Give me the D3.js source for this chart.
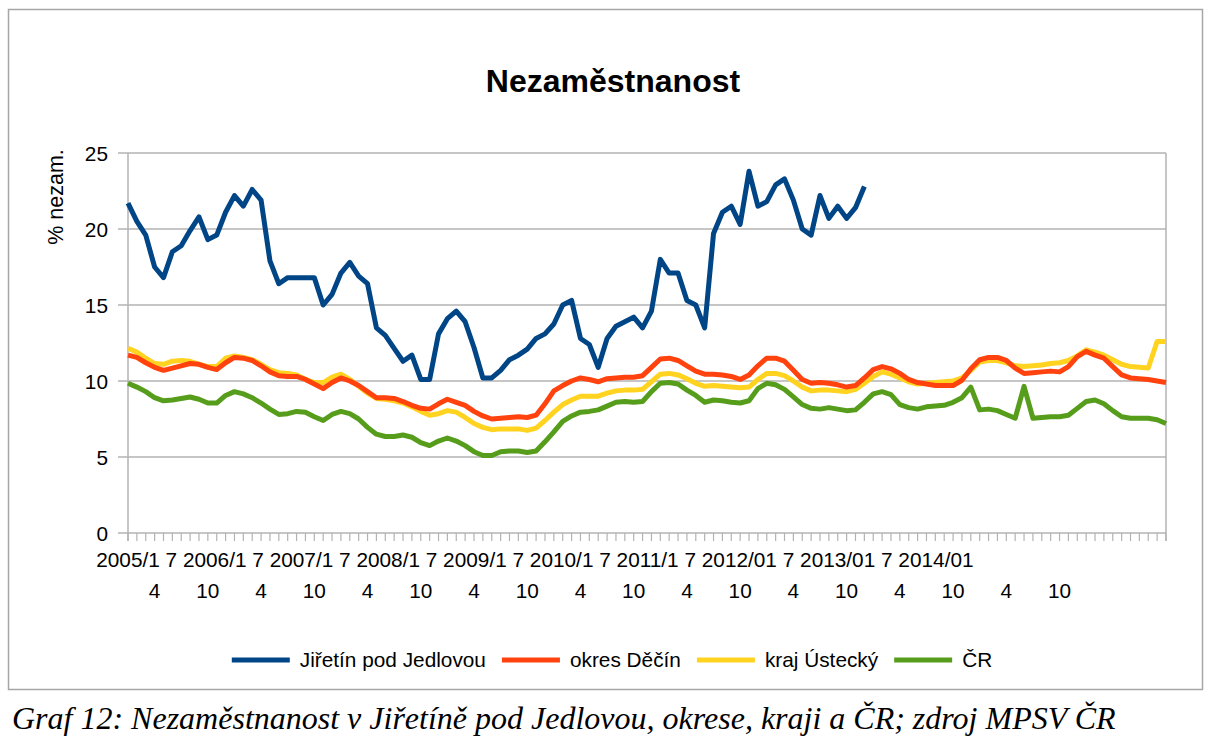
<!DOCTYPE html>
<html><head><meta charset="utf-8">
<script src="https://cdn.jsdelivr.net/npm/d3@7"></script>
<style>
html,body{margin:0;padding:0;background:#fff;}
svg{display:block;font-family:"Liberation Sans",Arial,sans-serif;}
</style></head>
<body>
<svg id="chart" width="1207" height="744"></svg>
<script>
// ---- DATA ----
const startYear = 2005;
const nMonths = 118; // 2005/1 .. 2014/10
const categories = d3.range(nMonths).map(i => `${startYear + Math.floor(i/12)}/${(i%12)+1}`);

const seriesNames = ["Jiřetín pod Jedlovou", "okres Děčín", "kraj Ústecký", "ČR"];
const seriesColors = ["#004586", "#ff420e", "#ffd320", "#579d1c"];

const jiretin = [21.7,20.5,19.6,17.5,16.8,18.5,18.9,19.9,20.8,19.3,19.6,21.1,22.2,21.5,22.6,21.9,17.9,16.4,16.8,16.8,
  16.8,16.8,15.0,15.7,17.1,17.8,16.9,16.4,13.5,13.0,12.15,11.3,11.7,10.1,10.1,13.1,14.1,14.6,13.9,12.2,
  10.2,10.2,10.7,11.4,11.7,12.1,12.8,13.1,13.75,15.0,15.3,12.8,12.4,10.9,12.8,13.6,13.9,14.2,13.5,14.6,
  18.0,17.1,17.1,15.3,15.0,13.5,19.7,21.1,21.5,20.3,23.8,21.5,21.8,22.9,23.3,21.9,20.0,19.6,22.2,20.7,
  21.5,20.7,21.4,22.8];

const okres = [11.7,11.55,11.2,10.9,10.7,10.85,11.0,11.15,11.1,10.9,10.75,11.2,11.55,11.5,11.35,11.0,10.6,10.35,10.3,10.3,
  10.1,9.8,9.5,9.9,10.2,10.0,9.7,9.3,8.9,8.9,8.85,8.65,8.4,8.2,8.15,8.5,8.8,8.6,8.4,8.0,
  7.7,7.5,7.55,7.6,7.65,7.6,7.75,8.5,9.35,9.7,10.0,10.2,10.1,9.95,10.15,10.2,10.25,10.25,10.35,10.9,
  11.45,11.5,11.35,11.0,10.65,10.45,10.45,10.4,10.3,10.1,10.4,11.0,11.5,11.5,11.3,10.7,10.1,9.85,9.9,9.85,
  9.75,9.6,9.7,10.2,10.75,10.95,10.8,10.5,10.1,9.9,9.8,9.7,9.7,9.7,10.05,10.8,11.4,11.55,11.55,11.35,
  10.85,10.5,10.55,10.6,10.65,10.6,10.95,11.6,11.95,11.7,11.5,10.95,10.4,10.2,10.15,10.1,10.0,9.9];

const kraj = [12.15,11.9,11.5,11.15,11.1,11.3,11.35,11.3,11.1,10.95,10.95,11.5,11.65,11.55,11.4,11.1,10.75,10.55,10.5,10.4,
  10.1,9.9,9.9,10.25,10.45,10.1,9.65,9.2,8.85,8.8,8.7,8.55,8.3,8.0,7.75,7.85,8.05,7.95,7.6,7.2,
  6.95,6.8,6.85,6.85,6.85,6.75,6.9,7.4,7.95,8.45,8.75,9.0,9.0,9.0,9.2,9.35,9.4,9.4,9.45,9.95,
  10.45,10.5,10.4,10.15,9.85,9.65,9.7,9.65,9.6,9.55,9.6,10.1,10.5,10.5,10.35,10.0,9.6,9.35,9.4,9.4,
  9.35,9.3,9.45,9.85,10.3,10.6,10.45,10.2,9.95,9.8,9.85,9.9,9.95,10.0,10.2,10.7,11.25,11.35,11.35,11.2,
  11.0,10.95,11.0,11.05,11.15,11.2,11.35,11.65,12.05,11.9,11.7,11.4,11.1,10.95,10.9,10.85,12.6,12.6];

const cr = [9.85,9.6,9.3,8.9,8.7,8.75,8.85,8.95,8.8,8.55,8.55,9.05,9.3,9.15,8.9,8.55,8.15,7.8,7.85,8.0,
  7.95,7.65,7.4,7.8,8.0,7.85,7.5,6.95,6.5,6.35,6.35,6.45,6.3,5.95,5.75,6.05,6.25,6.05,5.75,5.35,
  5.1,5.1,5.35,5.4,5.4,5.3,5.4,6.0,6.65,7.35,7.7,7.95,8.0,8.1,8.35,8.6,8.65,8.6,8.65,9.3,
  9.85,9.9,9.8,9.4,9.05,8.6,8.75,8.7,8.6,8.55,8.7,9.5,9.85,9.75,9.45,8.95,8.45,8.2,8.15,8.25,
  8.15,8.05,8.1,8.6,9.15,9.3,9.1,8.45,8.25,8.15,8.3,8.35,8.4,8.6,8.9,9.6,8.1,8.15,8.05,7.8,
  7.55,9.65,7.55,7.6,7.65,7.65,7.75,8.2,8.65,8.75,8.5,8.05,7.65,7.55,7.55,7.55,7.45,7.2];

const yTicks = [0,5,10,15,20,25];
const xLabelsRow1 = ["2005/1","7","2006/1","7","2007/1","7","2008/1","7","2009/1","7","2010/1","7","2011/1","7","2012/01","7","2013/01","7","2014/01"];
const xLabelsRow2Years = [2005,2006,2007,2008,2009,2010,2011,2012,2013];
const xLabelsRow2Months = [4,10];

const titleText = "Nezaměstnanost";
const yAxisTitle = "% nezam.";
const captionText = "Graf 12: Nezaměstnanost v Jiřetíně pod Jedlovou, okrese, kraji a ČR; zdroj MPSV ČR";

// ---- LAYOUT ----
const svg = d3.select("#chart");
const L = 128, R = 1166, T = 153, B = 533;
const x = d3.scaleLinear().domain([0, nMonths - 1]).range([L, R]);
const y = d3.scaleLinear().domain([0, 25]).range([B, T]);
const FS = 20.8;

// outer frame
svg.append("rect").attr("x", 8.5).attr("y", 9.5).attr("width", 1194).attr("height", 680)
  .attr("fill", "none").attr("stroke", "#a6a6a6").attr("stroke-width", 1.5);

// title
svg.append("text").attr("x", 613).attr("y", 92).attr("text-anchor", "middle")
  .attr("font-size", 32).attr("font-weight", "bold").text(titleText);

// gridlines + y ticks
const grid = svg.append("g");
grid.selectAll("line").data(yTicks).join("line")
  .attr("x1", L - 10).attr("x2", R).attr("y1", d => y(d)).attr("y2", d => y(d))
  .attr("stroke", "#b3b3b3").attr("stroke-width", 1.5);
svg.append("g").selectAll("text").data(yTicks).join("text")
  .attr("x", 108).attr("y", d => y(d) + 7.5).attr("text-anchor", "end")
  .attr("font-size", FS).text(d => d);

// x ticks
svg.append("g").selectAll("line").data(d3.range(nMonths)).join("line")
  .attr("x1", d => x(d)).attr("x2", d => x(d)).attr("y1", B).attr("y2", B + 8)
  .attr("stroke", "#b3b3b3").attr("stroke-width", 1.2);
// axes lines
svg.append("line").attr("x1", L).attr("x2", L).attr("y1", T).attr("y2", B + 8)
  .attr("stroke", "#b3b3b3").attr("stroke-width", 1.5);
svg.append("line").attr("x1", R).attr("x2", R).attr("y1", T).attr("y2", B + 8)
  .attr("stroke", "#b3b3b3").attr("stroke-width", 1.5);

// y-axis title
svg.append("text").attr("transform", `translate(63,197) rotate(-90)`)
  .attr("text-anchor", "middle").attr("font-size", 21.5).text(yAxisTitle);

// x labels row 1 (flowed text)
const row1 = svg.append("text").attr("y", 567).attr("font-size", FS)
  .attr("xml:space", "preserve").style("white-space", "pre").text(xLabelsRow1.join(" "));
const tmp = svg.append("text").attr("font-size", FS).text(xLabelsRow1[0]);
const w0 = tmp.node().getComputedTextLength(); tmp.remove();
row1.attr("x", x(0) - w0 / 2);

// x labels row 2
const row2 = [];
xLabelsRow2Years.forEach(yr => xLabelsRow2Months.forEach(m => {
  row2.push({ idx: categories.indexOf(`${yr}/${m}`), t: String(m) });
}));
svg.append("g").selectAll("text").data(row2).join("text")
  .attr("x", d => x(d.idx)).attr("y", 598).attr("text-anchor", "middle")
  .attr("font-size", FS).text(d => d.t);

// series
const allSeries = [jiretin, okres, kraj, cr];
const line = d3.line().x((d, i) => x(i)).y(d => y(d));
[3, 2, 1, 0].forEach(k => {
  svg.append("path").datum(allSeries[k]).attr("d", line)
    .attr("fill", "none").attr("stroke", seriesColors[k]).attr("stroke-width", 5)
    .attr("stroke-linejoin", "round").attr("stroke-linecap", "butt");
});

// legend
const lg = svg.append("g");
let cx = 0;
seriesNames.forEach((n, k) => {
  const g = lg.append("g");
  g.append("line").attr("x1", cx).attr("x2", cx + 58).attr("y1", 660).attr("y2", 660)
    .attr("stroke", seriesColors[k]).attr("stroke-width", 5);
  const t = g.append("text").attr("x", cx + 68).attr("y", 667).attr("font-size", FS).text(n);
  cx += 68 + t.node().getComputedTextLength() + 16;
});
const totalW = cx - 16;
lg.attr("transform", `translate(${612 - totalW / 2},0)`);

// caption
svg.append("text").attr("x", 12).attr("y", 729)
  .attr("font-family", "'Liberation Serif','Times New Roman',serif").attr("font-style", "italic")
  .attr("font-size", 32).text(captionText);
</script>
</body></html>
